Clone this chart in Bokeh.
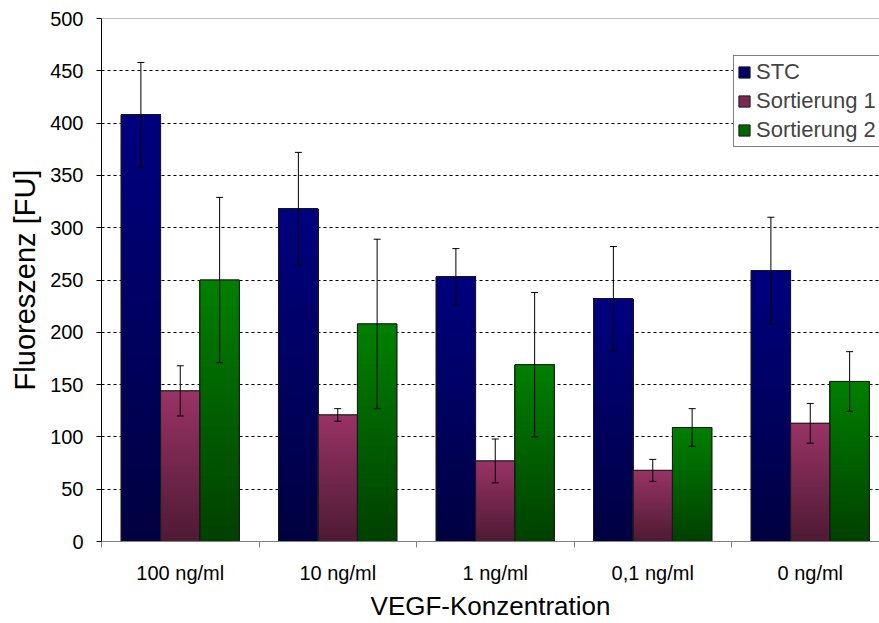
from bokeh.plotting import figure
from bokeh.models import (ColumnDataSource, Whisker, FixedTicker, Span, Legend,
                          LegendItem, TeeHead)
from bokeh.embed import file_html
from bokeh.resources import INLINE

# ---------------- data ----------------
categories = ["100 ng/ml", "10 ng/ml", "1 ng/ml", "0,1 ng/ml", "0 ng/ml"]
series_names = ["STC", "Sortierung 1", "Sortierung 2"]
stc = [408, 318, 253, 232, 259]
stc_err = [50, 54, 27, 50, 51]
sort1 = [144, 121, 77, 68, 113]
sort1_err = [24, 6, 21, 10.5, 19]
sort2 = [250, 208, 169, 109, 153]
sort2_err = [79, 81, 69, 18, 28.5]
y_ticks = [0, 50, 100, 150, 200, 250, 300, 350, 400, 450, 500]

# ---------------- styling ----------------
top_colors = [(0, 0, 128), (153, 51, 102), (0, 128, 0)]
bottom_colors = [(0, 0, 64), (77, 26, 51), (0, 64, 0)]
offsets = [0.25, 0.5, 0.75]
bar_w = 0.25
FONT = "Liberation Sans"
N_SLICES = 48


def mix(c0, c1, t):
    return "#%02x%02x%02x" % tuple(int(round(a + (b - a) * t)) for a, b in zip(c0, c1))


values = [stc, sort1, sort2]
errors = [stc_err, sort1_err, sort2_err]

p = figure(width=879, height=623, x_range=(0, 778 / 157.5), y_range=(0, 500),
           output_backend="svg", toolbar_location=None)
p.min_border_left = 101
p.min_border_right = 0
p.min_border_top = 18
p.min_border_bottom = 82
p.outline_line_color = None
p.background_fill_color = "white"
p.border_fill_color = "white"

legend_items = []
w = dict(x=[], upper=[], lower=[])
border = dict(left=[], right=[], top=[])
for s in range(3):
    base = dict(left=[], right=[], top=[])
    g = dict(left=[], right=[], bottom=[], top=[], color=[])
    for i, v in enumerate(values[s]):
        xc = i + offsets[s]
        base["left"].append(xc - bar_w / 2)
        base["right"].append(xc + bar_w / 2)
        base["top"].append(v)
        # overlapping slices: slice k covers [v*k/n, v]; later ones paint over
        for k in range(N_SLICES):
            g["left"].append(xc - bar_w / 2)
            g["right"].append(xc + bar_w / 2)
            g["bottom"].append(v * k / N_SLICES)
            g["top"].append(v)
            g["color"].append(mix(bottom_colors[s], top_colors[s], (k + 0.5) / N_SLICES))
        border["left"].append(xc - bar_w / 2)
        border["right"].append(xc + bar_w / 2)
        border["top"].append(v)
        w["x"].append(xc)
        w["upper"].append(v + errors[s][i])
        w["lower"].append(v - errors[s][i])
    r_base = p.quad(left="left", right="right", bottom=0, top="top",
                    fill_color=mix(bottom_colors[s], top_colors[s], 0.6),
                    line_color="#1a1a1a", line_width=1, source=ColumnDataSource(base))
    p.quad(left="left", right="right", bottom="bottom", top="top", fill_color="color",
           line_color=None, source=ColumnDataSource(g))
    legend_items.append(LegendItem(label=series_names[s], renderers=[r_base]))

p.quad(left="left", right="right", bottom=0, top="top", fill_alpha=0,
       line_color="#1a1a1a", line_width=1, source=ColumnDataSource(border))

whisk = Whisker(base="x", upper="upper", lower="lower", source=ColumnDataSource(w),
                line_color="black", line_width=1, level="overlay",
                upper_head=TeeHead(size=7, line_color="black", line_width=1),
                lower_head=TeeHead(size=7, line_color="black", line_width=1))
p.add_layout(whisk)

# top border line
p.add_layout(Span(location=500, dimension="width", line_color="#808080", line_width=1))

legend = Legend(items=legend_items, location=(632, 394))
legend.label_text_font = FONT
legend.label_text_font_size = "22px"
legend.glyph_width = 14
legend.glyph_height = 14
legend.label_standoff = 5
legend.padding = 3
legend.spacing = 3
legend.margin = 0
legend.border_line_color = "black"
legend.border_line_width = 1
legend.background_fill_color = "white"
legend.background_fill_alpha = 1
p.add_layout(legend)

# grid
p.xgrid.visible = False
p.ygrid.ticker = FixedTicker(ticks=y_ticks[1:-1])
p.ygrid.grid_line_color = "black"
p.ygrid.grid_line_dash = "3 3"
p.ygrid.grid_line_width = 1

# x axis
xa = p.xaxis[0]
xa.ticker = FixedTicker(ticks=[i + 0.5 for i in range(len(categories))],
                        minor_ticks=list(range(len(categories) + 1)))
xa.major_label_overrides = {i + 0.5: c for i, c in enumerate(categories)}
xa.major_tick_line_color = None
xa.major_tick_out = 0
xa.major_tick_in = 0
xa.minor_tick_out = 6
xa.minor_tick_in = 0
xa.minor_tick_line_color = "#808080"
xa.axis_line_color = "#808080"
xa.major_label_text_font = FONT
xa.major_label_text_font_size = "20px"
xa.major_label_text_color = "black"
xa.major_label_standoff = 14
xa.axis_label = "VEGF-Konzentration"
xa.axis_label_text_font = FONT
xa.axis_label_text_font_size = "26px"
xa.axis_label_text_font_style = "normal"
xa.axis_label_text_color = "black"
xa.axis_label_standoff = 4

# y axis
ya = p.yaxis[0]
ya.ticker = FixedTicker(ticks=y_ticks)
ya.major_tick_out = 5
ya.major_tick_in = 0
ya.minor_tick_out = 0
ya.minor_tick_in = 0
ya.axis_line_color = "black"
ya.major_tick_line_color = "black"
ya.major_label_text_font = FONT
ya.major_label_text_font_size = "20px"
ya.major_label_text_color = "black"
ya.major_label_standoff = 13
ya.axis_label = "Fluoreszenz [FU]"
ya.axis_label_text_font = FONT
ya.axis_label_text_font_size = "29px"
ya.axis_label_text_font_style = "normal"
ya.axis_label_text_color = "black"
ya.axis_label_standoff = 6

open("out.html", "w").write(file_html(p, INLINE))
